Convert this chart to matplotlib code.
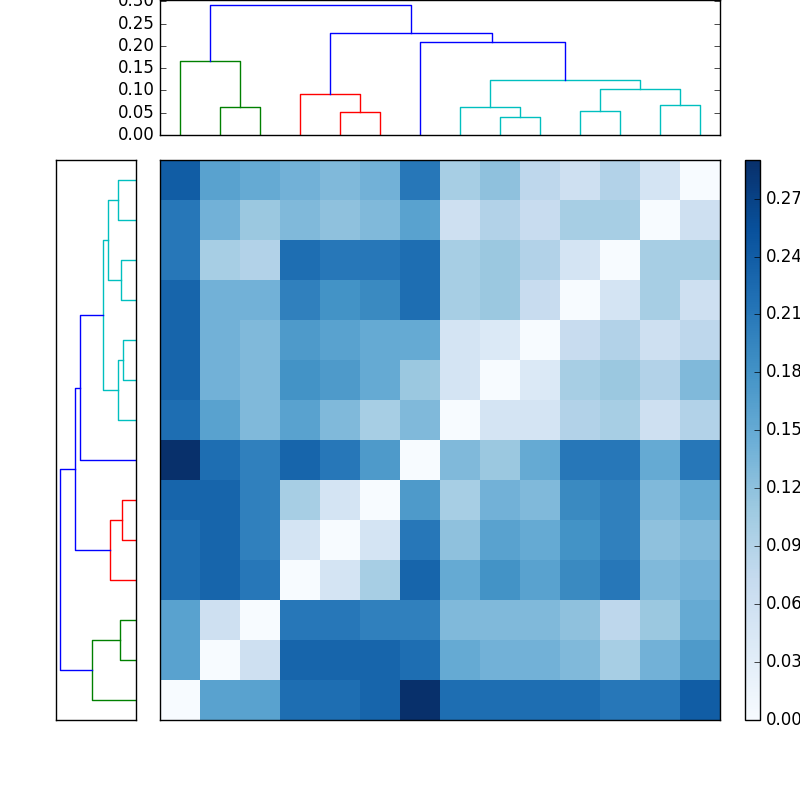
import numpy as np
import matplotlib
matplotlib.use('Agg')
import matplotlib.pyplot as plt

plt.style.use('classic')

# linkage for the column tree: (a, b, height, colour); leaves 0..13, clusters 14+
top_links = [
    (1, 2, 0.063, 'g'), (0, 14, 0.165, 'g'),
    (4, 5, 0.052, 'r'), (3, 16, 0.093, 'r'),
    (8, 9, 0.041, 'c'), (7, 18, 0.063, 'c'),
    (10, 11, 0.054, 'c'), (12, 13, 0.068, 'c'),
    (20, 21, 0.104, 'c'), (19, 22, 0.124, 'c'),
    (6, 23, 0.208, 'b'), (17, 24, 0.230, 'b'), (15, 25, 0.291, 'b'),
]
# linkage for the row tree (leaf 0 = top row)
left_links = [
    (0, 1, 0.069, 'c'), (2, 3, 0.057, 'c'), (14, 15, 0.107, 'c'),
    (4, 5, 0.050, 'c'), (17, 6, 0.069, 'c'), (16, 18, 0.126, 'c'),
    (19, 7, 0.214, 'b'),
    (8, 9, 0.053, 'r'), (21, 10, 0.099, 'r'),
    (20, 22, 0.233, 'b'),
    (11, 12, 0.061, 'g'), (24, 13, 0.168, 'g'),
    (23, 25, 0.290, 'b'),
]

dist = np.array([
    [0.24, 0.16, 0.15, 0.14, 0.13, 0.14, 0.21, 0.10, 0.12, 0.08, 0.06, 0.09, 0.05, 0.00],
    [0.21, 0.14, 0.11, 0.13, 0.12, 0.13, 0.16, 0.06, 0.09, 0.07, 0.10, 0.10, 0.00, 0.06],
    [0.21, 0.10, 0.09, 0.22, 0.21, 0.21, 0.22, 0.10, 0.11, 0.09, 0.05, 0.00, 0.10, 0.10],
    [0.23, 0.14, 0.14, 0.20, 0.18, 0.19, 0.22, 0.10, 0.11, 0.07, 0.00, 0.05, 0.10, 0.06],
    [0.23, 0.14, 0.13, 0.17, 0.16, 0.15, 0.15, 0.05, 0.04, 0.00, 0.07, 0.09, 0.06, 0.08],
    [0.23, 0.14, 0.13, 0.18, 0.17, 0.15, 0.11, 0.05, 0.00, 0.04, 0.10, 0.11, 0.09, 0.13],
    [0.22, 0.16, 0.13, 0.16, 0.13, 0.10, 0.13, 0.00, 0.05, 0.05, 0.09, 0.10, 0.06, 0.09],
    [0.29, 0.22, 0.20, 0.23, 0.21, 0.17, 0.00, 0.13, 0.11, 0.15, 0.21, 0.21, 0.15, 0.21],
    [0.23, 0.23, 0.20, 0.10, 0.05, 0.00, 0.17, 0.10, 0.14, 0.13, 0.19, 0.20, 0.13, 0.15],
    [0.22, 0.23, 0.20, 0.05, 0.00, 0.05, 0.21, 0.12, 0.16, 0.15, 0.18, 0.20, 0.12, 0.13],
    [0.22, 0.23, 0.21, 0.00, 0.05, 0.10, 0.23, 0.15, 0.18, 0.16, 0.19, 0.21, 0.13, 0.14],
    [0.16, 0.06, 0.00, 0.21, 0.21, 0.20, 0.20, 0.13, 0.13, 0.13, 0.12, 0.08, 0.11, 0.15],
    [0.16, 0.00, 0.06, 0.23, 0.23, 0.23, 0.22, 0.15, 0.14, 0.14, 0.13, 0.10, 0.14, 0.17],
    [0.00, 0.16, 0.16, 0.22, 0.22, 0.23, 0.29, 0.22, 0.22, 0.22, 0.22, 0.21, 0.21, 0.24],
])
n = 14


def draw_tree(ax, links, horizontal=False):
    pos = {i: 5 + 10 * i for i in range(n)}
    hgt = {i: 0.0 for i in range(n)}
    for k, (a, b, h, c) in enumerate(links):
        xs = [pos[a], pos[a], pos[b], pos[b]]
        ys = [hgt[a], h, h, hgt[b]]
        if horizontal:
            ax.plot(ys, xs, color=c)
        else:
            ax.plot(xs, ys, color=c)
        pos[n + k] = (pos[a] + pos[b]) / 2
        hgt[n + k] = h


fig = plt.figure(figsize=(8, 8), dpi=100, facecolor='white')

ax_top = fig.add_axes([0.2, 0.83125, 0.7, 0.16875])
draw_tree(ax_top, top_links)
ax_top.set_xlim(0, 140)
ax_top.set_ylim(0, 0.303)
ax_top.set_xticks([])
ax_top.set_yticks(np.arange(0, 0.31, 0.05))
ax_top.yaxis.set_major_formatter(matplotlib.ticker.FormatStrFormatter('%.2f'))

ax_left = fig.add_axes([0.07, 0.1, 0.1, 0.7])
draw_tree(ax_left, left_links, horizontal=True)
ax_left.set_xlim(0.305, 0)
ax_left.set_ylim(140, 0)
ax_left.set_xticks([])
ax_left.set_yticks([])

ax_heat = fig.add_axes([0.2, 0.1, 0.7, 0.7])
im = ax_heat.imshow(dist, cmap='Blues', aspect='auto', interpolation='nearest',
                    vmin=0, vmax=0.29)
ax_heat.set_xticks([])
ax_heat.set_yticks([])

ax_cb = fig.add_axes([0.93125, 0.1, 0.01875, 0.7])
cb = fig.colorbar(im, cax=ax_cb, ticks=np.arange(0, 0.28, 0.03))
cb.ax.yaxis.set_major_formatter(matplotlib.ticker.FormatStrFormatter('%.2f'))

fig.savefig('out.png', dpi=100, facecolor='white')
